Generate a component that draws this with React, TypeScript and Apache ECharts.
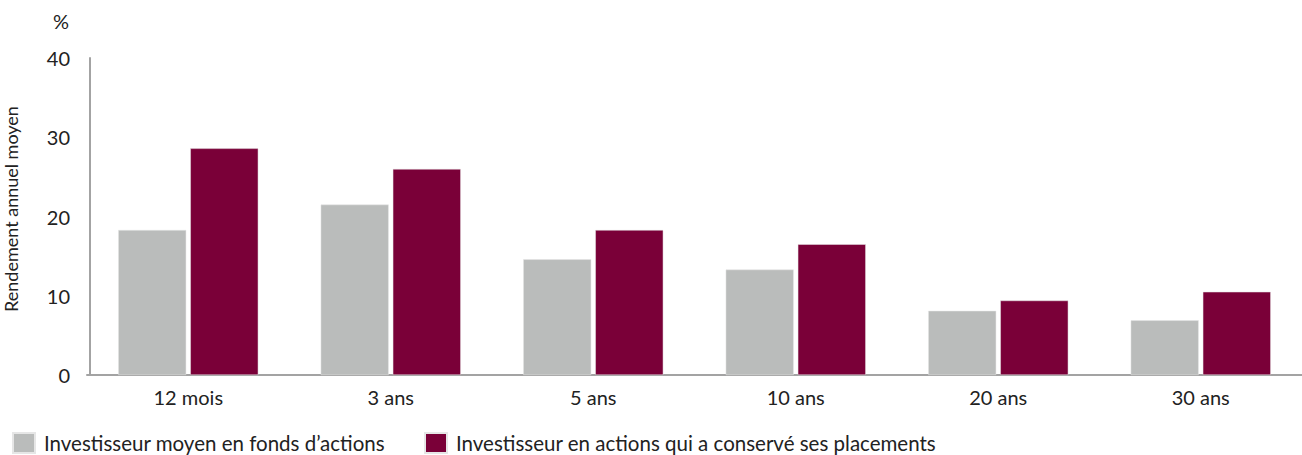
import React, { useEffect, useRef } from "react";
import * as echarts from "echarts";

const categories = ["12 mois", "3 ans", "5 ans", "10 ans", "20 ans", "30 ans"];
const seriesNames = [
  "Investisseur moyen en fonds d\u2019actions",
  "Investisseur en actions qui a conservé ses placements",
];
const averageInvestor = [18.3, 21.5, 14.6, 13.3, 8.1, 6.9];
const stayedInvested = [28.6, 26.0, 18.3, 16.5, 9.4, 10.5];
const yTicks = { min: 0, max: 40, interval: 10 };
const yAxisTitle = "Rendement annuel moyen";
const unitLabel = "%";

const FONT = "Lato, 'Open Sans', sans-serif";
const TEXT = "#222222";

export default function App() {
  const ref = useRef<HTMLDivElement>(null);
  useEffect(() => {
    if (!ref.current) return;
    const chart = echarts.init(ref.current, undefined, { renderer: "svg" });
    chart.setOption({
      animation: false,
      textStyle: { fontFamily: FONT, color: TEXT },
      grid: { left: 87, top: 58, width: 1221, height: 317, containLabel: false },
      legend: {
        left: 12,
        top: 432,
        padding: 0,
        itemWidth: 22,
        itemHeight: 20,
        itemGap: 39,
        icon: "rect",
        selectedMode: false,
        textStyle: {
          fontSize: 20.5,
          lineHeight: 20,
          color: TEXT,
          fontFamily: FONT,
          padding: [0, 0, 0, 4],
        },
        data: seriesNames,
      },
      xAxis: {
        type: "category",
        data: categories,
        axisLine: { show: true, lineStyle: { color: "#a3a3a3", width: 2 } },
        axisTick: { show: false },
        axisLabel: { fontSize: 20, color: TEXT, margin: 12, fontFamily: FONT },
      },
      yAxis: {
        type: "value",
        min: yTicks.min,
        max: yTicks.max,
        interval: yTicks.interval,
        offset: -3,
        axisLine: { show: true, lineStyle: { color: "#a3a3a3", width: 2 } },
        axisTick: { show: false },
        splitLine: { show: false },
        axisLabel: { fontSize: 20, color: TEXT, margin: 20, fontFamily: FONT },
      },
      graphic: [
        {
          type: "text",
          left: 53,
          top: 11,
          style: { text: unitLabel, fontSize: 20, fill: TEXT, fontFamily: FONT },
        },
        {
          type: "text",
          x: 11,
          y: 209,
          rotation: Math.PI / 2,
          style: {
            text: yAxisTitle,
            fontSize: 18,
            fill: TEXT,
            fontFamily: FONT,
            align: "center",
            verticalAlign: "middle",
          },
        },
      ],
      series: [
        {
          name: seriesNames[0],
          type: "bar",
          data: averageInvestor,
          barWidth: 68,
          barGap: "6%",
          itemStyle: { color: "#babcbb", borderColor: "#e6e6e6", borderWidth: 0.5 },
        },
        {
          name: seriesNames[1],
          type: "bar",
          data: stayedInvested,
          barWidth: 68,
          barGap: "6%",
          itemStyle: { color: "#7a0038", borderColor: "#e6e6e6", borderWidth: 0.5 },
        },
      ],
    });
    return () => chart.dispose();
  }, []);
  return (
    <div
      ref={ref}
      style={{ position: "fixed", left: 0, top: 0, width: 1302, height: 455, background: "#fff" }}
    />
  );
}
